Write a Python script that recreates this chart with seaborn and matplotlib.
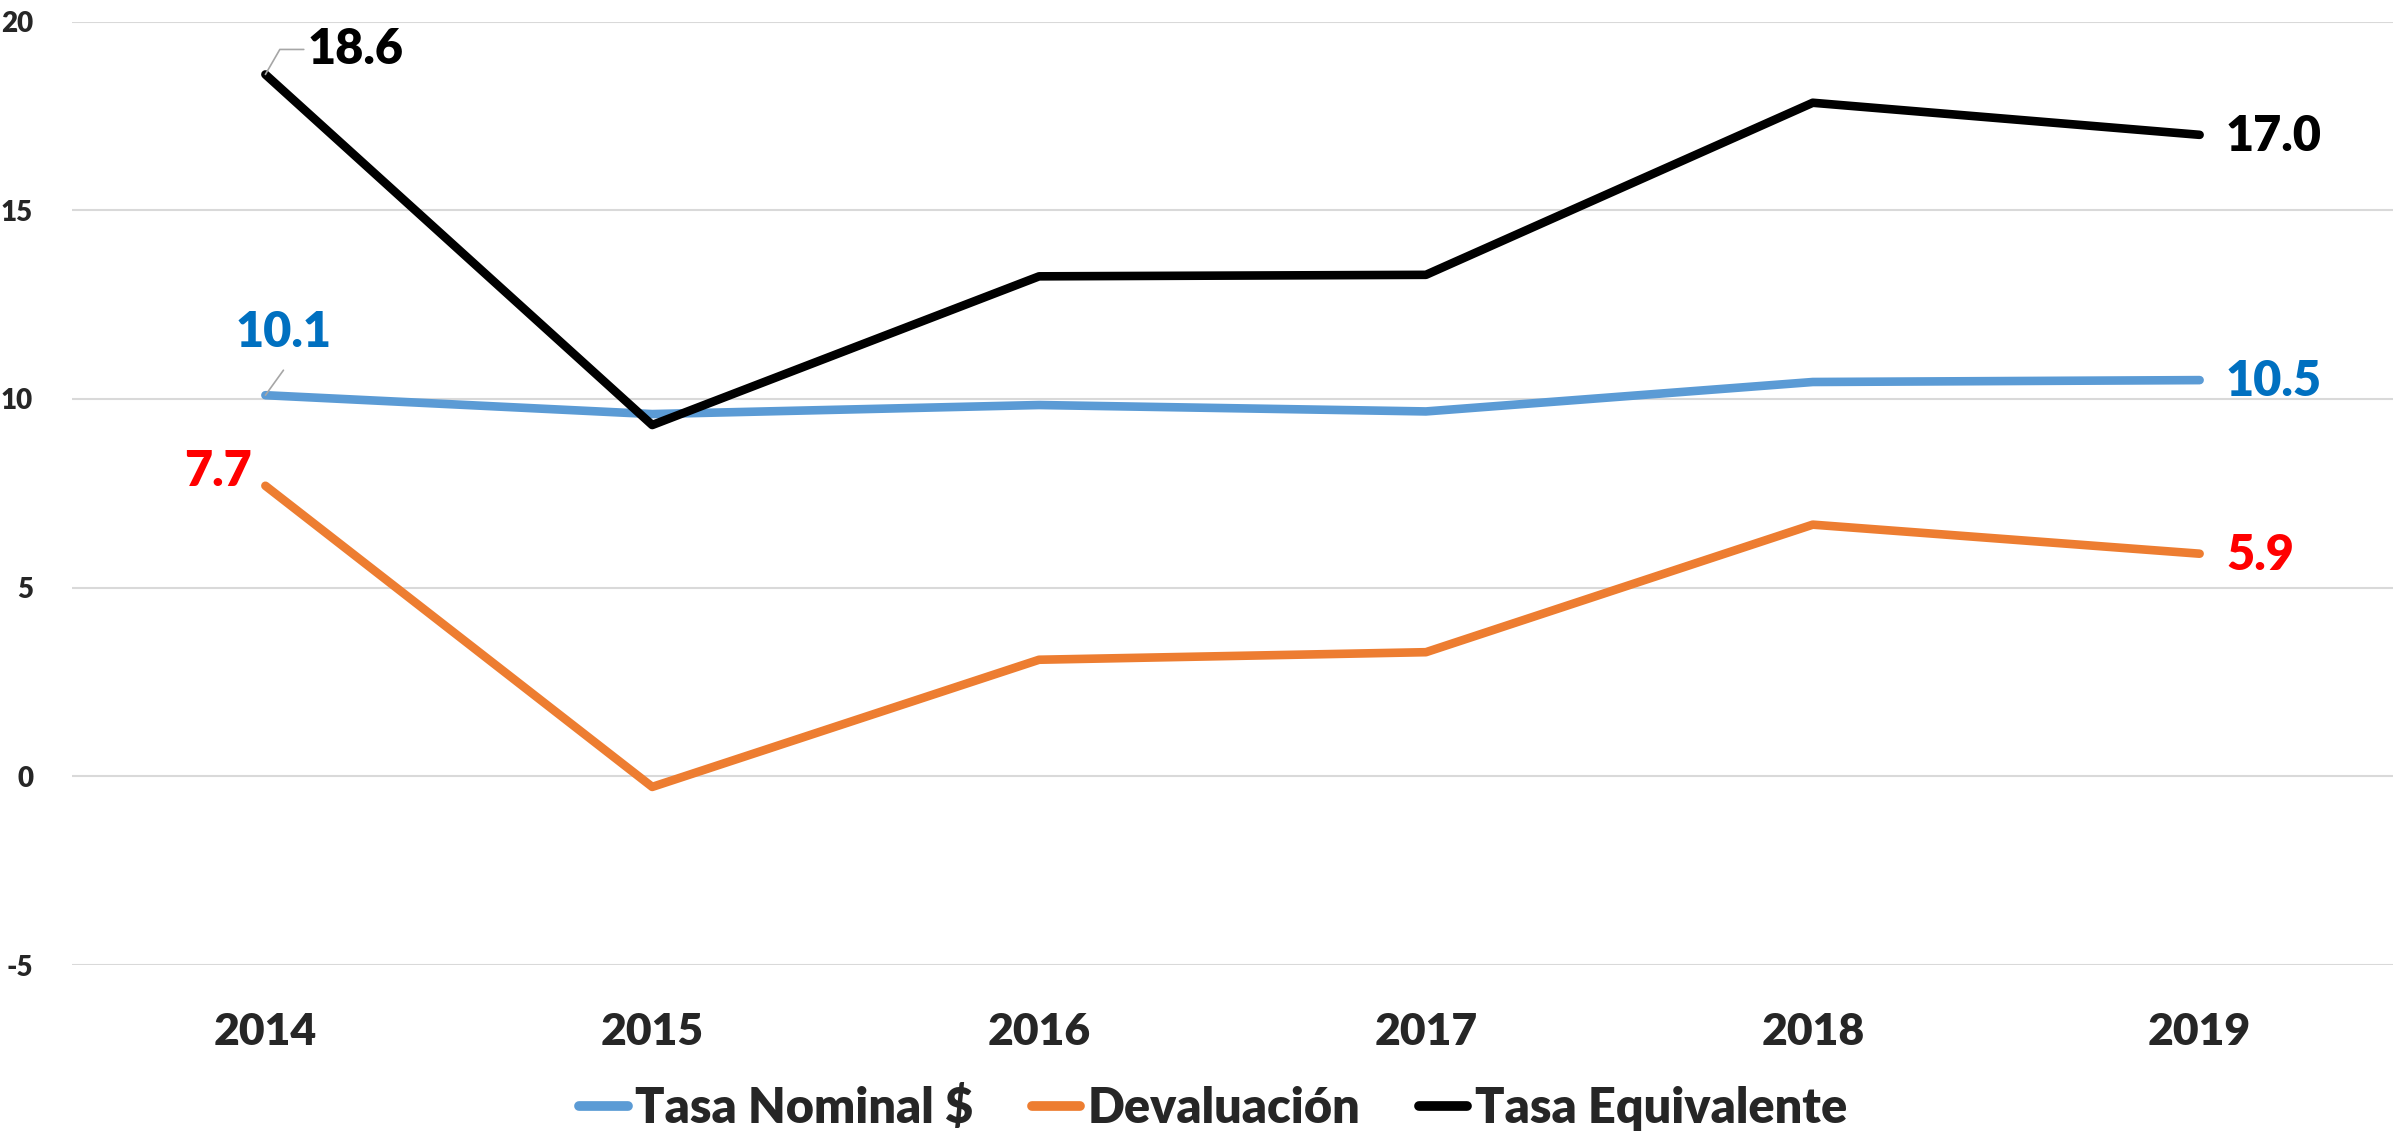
import pandas as pd
import seaborn as sns
import matplotlib.pyplot as plt

# datos
anios = ['2014', '2015', '2016', '2017', '2018', '2019']
tasa_nominal = [10.1, 9.6, 9.84, 9.67, 10.45, 10.5]
devaluacion = [7.7, -0.28, 3.09, 3.29, 6.67, 5.9]
tasa_equivalente = [18.6, 9.31, 13.25, 13.29, 17.85, 17.0]
series = ['Tasa Nominal $', 'Devaluación', 'Tasa Equivalente']

colores = {'Tasa Nominal $': '#5B9BD5', 'Devaluación': '#ED7D31', 'Tasa Equivalente': '#000000'}
colores_etiqueta = {'Tasa Nominal $': '#0070C0', 'Devaluación': '#FF0000', 'Tasa Equivalente': '#000000'}

df = pd.DataFrame({
    'anio': anios * 3,
    'valor': tasa_nominal + devaluacion + tasa_equivalente,
    'serie': [s for s in series for _ in anios],
})

sns.set_theme(style='white')
plt.rcParams['font.family'] = ['Lato', 'DejaVu Sans']
plt.rcParams['font.weight'] = 'bold'
plt.rcParams['axes.unicode_minus'] = False

fig = plt.figure(figsize=(24.07, 11.38), dpi=100)
ax = fig.add_axes([0.0299, 0.152, 0.9643, 0.829])

sns.lineplot(data=df, x='anio', y='valor', hue='serie', palette=colores, linewidth=6.2,
             sort=False, ax=ax, legend=True, solid_capstyle='round', solid_joinstyle='round')

ax.set_xlim(-0.5, 5.5)
ax.set_ylim(-5, 20)
ax.set_yticks([-5, 0, 5, 10, 15, 20])
ax.set_yticklabels(['-5', '0', '5', '10', '15', '20'])
ax.yaxis.grid(True, color='#D9D9D9', linewidth=1.5)
ax.set_axisbelow(True)
for s in ax.spines.values():
    s.set_visible(False)
ax.set_xlabel('')
ax.set_ylabel('')
ax.tick_params(axis='y', length=0, pad=28, labelsize=20)
ax.tick_params(axis='x', length=0, pad=34, labelsize=32)
for t in ax.get_xticklabels() + ax.get_yticklabels():
    t.set_fontweight('heavy')

# etiquetas de datos
gris = '#A6A6A6'
peso = 'heavy'
ax.annotate('18.6', xy=(0, tasa_equivalente[0]), xytext=(30, 18), textcoords='offset points',
            fontsize=35, fontweight=peso, color=colores_etiqueta['Tasa Equivalente'], va='center', ha='left',
            arrowprops=dict(arrowstyle='-', color=gris, lw=1.2, shrinkA=0, shrinkB=0,
                            connectionstyle='angle,angleA=0,angleB=60,rad=0'))
ax.annotate('10.1', xy=(0, tasa_nominal[0]), xytext=(13, 45), textcoords='offset points',
            fontsize=35, fontweight=peso, color=colores_etiqueta['Tasa Nominal $'], va='center', ha='center')
ax.annotate('', xy=(0, tasa_nominal[0]), xytext=(13, 18), textcoords='offset points',
            arrowprops=dict(arrowstyle='-', color=gris, lw=1.2, shrinkA=0, shrinkB=0))
ax.annotate('7.7', xy=(0, devaluacion[0]), xytext=(-10, 10), textcoords='offset points',
            fontsize=35, fontweight=peso, color=colores_etiqueta['Devaluación'], va='center', ha='right')

for nombre, vals in zip(series, [tasa_nominal, devaluacion, tasa_equivalente]):
    ax.annotate(f'{vals[-1]:.1f}', xy=(5, vals[-1]), xytext=(19, -1), textcoords='offset points',
                fontsize=35, fontweight=peso, color=colores_etiqueta[nombre], va='center', ha='left')

# leyenda
handles, labels = ax.get_legend_handles_labels()
ax.legend_.remove()
for h in handles:
    h.set_linewidth(7)
    h.set_solid_capstyle('round')
fig.legend(handles, labels, loc='center', bbox_to_anchor=(0.504, 0.026), ncol=3, frameon=False,
           prop={'weight': 'heavy', 'size': 35}, handlelength=1.0, handletextpad=0.15,
           columnspacing=1.2)

fig.savefig('out.png', dpi=100)
